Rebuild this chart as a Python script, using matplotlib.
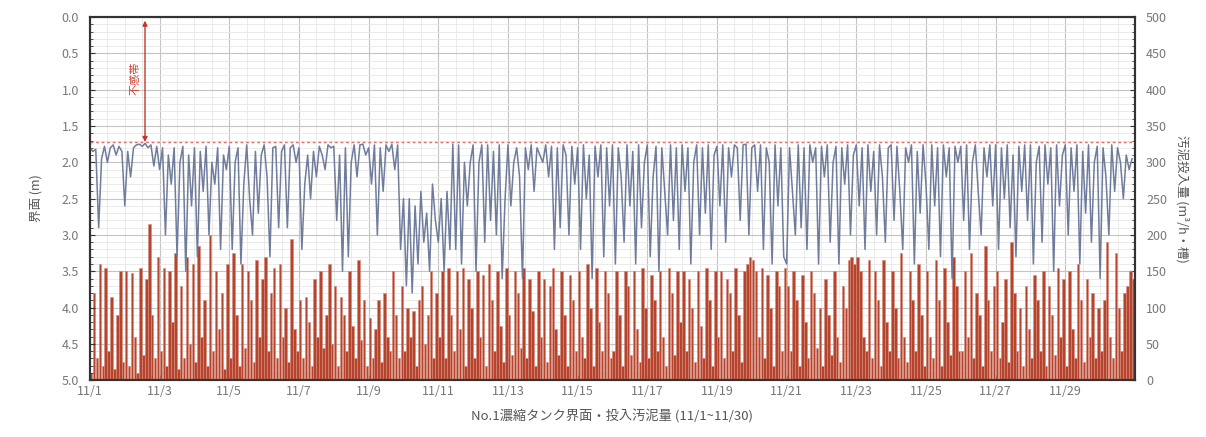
import numpy as np
import matplotlib
matplotlib.use('Agg')
from matplotlib import pyplot as plt
from matplotlib.ticker import MultipleLocator, FormatStrFormatter

plt.rcParams['font.family'] = ['Noto Sans CJK JP', 'DejaVu Sans']

# interface level (m), every 2 hours, one row per day 11/1 .. 11/30
level = [
    [1.80, 1.85, 1.82, 2.90, 1.95, 1.78, 2.00, 1.80, 1.76, 1.90, 1.78, 1.85],
    [2.60, 1.85, 2.20, 1.80, 1.76, 1.75, 1.78, 1.74, 1.80, 1.76, 2.05, 1.78],
    [2.10, 1.80, 3.00, 1.90, 2.30, 1.80, 3.30, 2.00, 1.78, 3.50, 1.90, 2.60],
    [1.80, 3.30, 1.85, 2.40, 1.78, 3.00, 2.00, 2.30, 1.80, 3.20, 1.90, 2.10],
    [1.78, 3.20, 2.00, 1.80, 3.40, 2.30, 1.76, 2.50, 3.00, 1.85, 2.70, 1.90],
    [1.76, 2.20, 3.30, 1.80, 1.78, 2.90, 1.85, 1.76, 2.90, 1.80, 1.76, 2.00],
    [1.80, 3.20, 2.30, 1.90, 2.50, 1.85, 2.20, 1.78, 1.90, 2.10, 1.76, 1.80],
    [1.78, 2.80, 1.90, 3.50, 1.80, 3.30, 2.00, 1.76, 2.20, 1.76, 1.75, 1.90],
    [1.80, 2.30, 1.76, 3.00, 1.80, 2.40, 1.76, 1.85, 1.75, 2.10, 1.76, 3.20],
    [2.50, 3.70, 2.50, 3.80, 2.60, 3.40, 2.40, 3.10, 2.70, 3.50, 2.30, 2.80],
    [3.10, 2.50, 3.50, 2.40, 3.20, 1.75, 3.20, 1.76, 3.40, 2.00, 2.60, 2.00],
    [1.76, 3.50, 2.00, 1.76, 3.10, 1.76, 2.80, 1.85, 3.00, 1.76, 3.60, 2.50],
    [1.76, 2.60, 2.00, 1.80, 2.20, 3.60, 1.80, 2.10, 1.76, 2.40, 1.80, 1.90],
    [2.00, 1.76, 2.20, 1.78, 3.20, 1.80, 2.90, 1.76, 1.90, 3.00, 1.78, 2.30],
    [1.80, 3.20, 1.76, 2.50, 1.90, 3.60, 1.78, 2.20, 1.76, 3.30, 1.80, 2.60],
    [1.76, 3.40, 1.80, 2.20, 3.10, 1.76, 2.60, 1.85, 3.40, 1.76, 2.90, 2.00],
    [1.76, 3.30, 2.20, 1.78, 3.50, 1.80, 2.40, 3.00, 1.76, 2.80, 1.80, 3.20],
    [1.76, 2.40, 1.80, 3.40, 2.00, 1.76, 3.00, 1.80, 2.70, 1.76, 3.20, 1.90],
    [1.78, 2.60, 1.76, 3.10, 1.80, 2.20, 1.76, 1.80, 2.80, 1.76, 1.75, 3.00],
    [1.80, 1.76, 2.40, 1.76, 3.20, 1.80, 2.00, 3.40, 1.76, 2.60, 1.80, 3.30],
    [3.40, 1.80, 2.40, 3.00, 1.76, 2.90, 1.80, 3.20, 1.76, 2.00, 1.80, 3.40],
    [1.78, 2.20, 1.76, 3.10, 2.00, 1.78, 3.40, 1.80, 2.30, 1.76, 3.00, 1.90],
    [1.76, 2.60, 1.80, 3.20, 1.76, 2.40, 1.85, 3.00, 1.76, 2.20, 3.10, 1.80],
    [1.76, 2.80, 1.78, 2.40, 3.20, 1.80, 2.00, 1.76, 3.40, 1.85, 2.70, 1.76],
    [2.30, 3.20, 1.76, 2.60, 1.80, 3.30, 1.76, 2.20, 1.80, 3.60, 1.78, 2.00],
    [1.78, 2.80, 1.76, 3.20, 2.00, 1.76, 2.40, 3.00, 1.80, 2.20, 1.76, 2.60],
    [1.76, 3.20, 1.80, 2.50, 1.76, 2.90, 1.90, 3.30, 1.78, 2.40, 1.76, 2.80],
    [1.76, 3.40, 2.00, 1.78, 3.10, 1.76, 2.30, 1.80, 3.50, 1.76, 2.60, 1.90],
    [1.76, 3.00, 1.80, 2.40, 1.76, 3.40, 1.85, 2.70, 1.76, 3.10, 2.00, 1.78],
    [3.60, 1.80, 2.20, 3.00, 1.76, 2.40, 1.80, 2.00, 2.50, 1.90, 2.10, 1.95],
]

# sludge input (m3/h per tank), same time steps
sludge = [
    [10, 120, 30, 160, 20, 155, 40, 115, 15, 90, 150, 25],
    [150, 20, 148, 60, 10, 155, 35, 140, 215, 90, 30, 170],
    [40, 155, 20, 150, 80, 175, 15, 130, 30, 170, 50, 160],
    [25, 185, 60, 110, 20, 200, 40, 150, 70, 120, 15, 160],
    [30, 175, 90, 20, 160, 45, 150, 110, 25, 165, 60, 140],
    [170, 40, 120, 155, 30, 160, 60, 100, 25, 195, 70, 40],
    [110, 30, 115, 80, 20, 140, 60, 150, 45, 90, 160, 50],
    [130, 20, 115, 90, 40, 150, 75, 30, 165, 55, 110, 20],
    [85, 30, 70, 110, 25, 120, 60, 40, 150, 90, 30, 130],
    [40, 100, 60, 95, 20, 110, 130, 50, 90, 150, 30, 120],
    [60, 150, 30, 155, 90, 40, 150, 70, 155, 20, 140, 100],
    [30, 150, 60, 145, 20, 160, 110, 40, 150, 75, 25, 155],
    [90, 35, 150, 120, 45, 155, 30, 140, 95, 20, 150, 60],
    [140, 25, 130, 155, 70, 35, 150, 90, 20, 145, 110, 40],
    [150, 60, 30, 160, 100, 20, 155, 80, 40, 150, 120, 30],
    [40, 150, 90, 20, 150, 130, 35, 150, 70, 25, 155, 100],
    [30, 145, 110, 40, 150, 60, 20, 155, 120, 35, 150, 80],
    [150, 40, 140, 100, 25, 150, 75, 30, 155, 110, 20, 150],
    [60, 150, 30, 140, 120, 40, 155, 90, 25, 150, 160, 170],
    [165, 150, 60, 155, 30, 145, 100, 20, 150, 130, 40, 155],
    [130, 40, 150, 110, 20, 145, 80, 30, 150, 120, 45, 100],
    [20, 140, 90, 35, 150, 60, 25, 130, 100, 165, 170, 160],
    [170, 150, 60, 40, 165, 30, 150, 110, 20, 165, 80, 40],
    [150, 100, 30, 175, 60, 25, 150, 110, 40, 160, 90, 20],
    [150, 60, 30, 165, 110, 20, 155, 80, 35, 170, 130, 40],
    [40, 150, 60, 175, 30, 120, 90, 20, 185, 110, 40, 130],
    [150, 30, 80, 140, 25, 190, 120, 40, 100, 20, 130, 70],
    [30, 145, 110, 40, 150, 20, 130, 90, 35, 155, 60, 140],
    [20, 150, 70, 30, 160, 110, 25, 140, 60, 120, 30, 100],
    [40, 110, 190, 60, 30, 175, 100, 40, 120, 130, 150, 140],
]

day_labels = ['11/%d' % d for d in range(1, 30, 2)]
dead_band = 1.72

lv = np.array(level).ravel()
sl = np.array(sludge).ravel()
t = np.arange(len(lv)) / 12.0  # days from 11/1 0:00

fig = plt.figure(figsize=(12.06, 4.37), dpi=100)
ax = fig.add_axes([0.0746, 0.130, 0.8665, 0.831])
ax2 = ax.twinx()

# sludge bars on the host axes, scale on the right
ax.bar(t, sl, width=0.072, align='edge', color='#B5442E', edgecolor='#D98A78',
       linewidth=0.4, zorder=2)
ax.set_ylim(0, 500)
ax.set_xlim(0, 30)
ax.yaxis.tick_right()
ax.yaxis.set_label_position('right')
ax.yaxis.set_major_locator(MultipleLocator(50))
ax.yaxis.set_minor_locator(MultipleLocator(10))
ax.xaxis.set_minor_locator(MultipleLocator(0.5))
ax.set_xticks(np.arange(0, 30, 2))
ax.set_xticklabels(day_labels)
ax.set_axisbelow(True)
ax.grid(which='major', color='#c4c4c4', linewidth=0.8)
ax.grid(which='minor', color='#e8e8e8', linewidth=0.6)
ax.set_ylabel('汚泥投入量 (m³/h・槽)', rotation=270, labelpad=16, fontsize=9, color='#555555')
ax.set_xlabel('No.1濃縮タンク界面・投入汚泥量 (11/1~11/30)', fontsize=9.5, color='#555555', labelpad=8)

# interface level on the twin, scale on the left (inverted)
ax2.yaxis.tick_left()
ax2.yaxis.set_label_position('left')
ax2.plot(t, lv, color='#6F7C9B', linewidth=1.1)
ax2.set_ylim(5.0, 0.0)
ax2.yaxis.set_major_locator(MultipleLocator(0.5))
ax2.yaxis.set_minor_locator(MultipleLocator(0.1))
ax2.yaxis.set_major_formatter(FormatStrFormatter('%.1f'))
ax2.set_ylabel('界面 (m)', fontsize=9, color='#555555', labelpad=14)

ax2.axhline(dead_band, color='#E07070', linestyle=(0, (2, 2)), linewidth=1.0)
ax2.annotate('', xy=(1.58, 0.05), xytext=(1.58, dead_band),
             arrowprops=dict(arrowstyle='<|-|>', color='#C0392B', lw=1.0,
                             mutation_scale=7, shrinkA=0, shrinkB=0))
ax2.text(1.3, 0.85, '不感帯', rotation=90, color='#D04030', fontsize=8,
         ha='center', va='center')

for a in (ax, ax2):
    a.tick_params(which='both', direction='in', colors='#333333', labelcolor='#777777', labelsize=9)
    a.tick_params(which='minor', length=2)
    for s in a.spines.values():
        s.set_color('#333333')
        s.set_linewidth(1.5)
ax.tick_params(axis='x', which='minor', length=0)
ax.tick_params(axis='y', pad=8)
ax2.tick_params(axis='y', pad=8)

fig.savefig('out.png', dpi=100)
